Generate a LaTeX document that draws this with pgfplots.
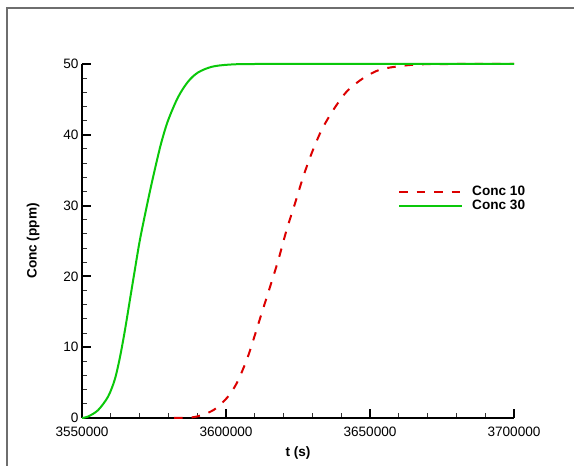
\documentclass[border=0pt]{standalone}
\usepackage{fontspec}
\setmainfont{Liberation Sans}
\usepackage{pgfplots}
\pgfplotsset{compat=1.18}
\definecolor{cgreen}{RGB}{10,200,10}
\definecolor{cred}{RGB}{220,0,0}
\definecolor{cframe}{RGB}{110,110,110}
\begin{document}
\begin{tikzpicture}[x=1pt,y=1pt]
\path[use as bounding box] (0,0) rectangle (574,466);
\draw[cframe, line width=1.5pt] (7,0) -- (7,458) -- (573.5,458);
\begin{axis}[
  at={(82pt,48pt)}, anchor=south west,
  width=432pt, height=354pt, scale only axis,
  xmin=3550000, xmax=3700000, ymin=0, ymax=50,
  axis x line*=bottom, axis y line*=left,
  axis line style={line width=2pt, -},
  xtick={3550000,3600000,3650000,3700000},
  ytick={0,10,20,30,40,50},
  minor x tick num=4, minor y tick num=4,
  tick align=inside,
  major tick length=9pt, minor tick length=5pt,
  every major tick/.style={line width=2pt, black},
  every minor tick/.style={line width=1pt, black!80},
  scaled x ticks=false,
  /pgf/number format/assume math mode=true,
  x tick label style={/pgf/number format/.cd, fixed, 1000 sep={}, precision=0, /tikz/.cd, yshift=-5pt},
  tick label style={font=\fontsize{13.6}{16}\selectfont},
  xlabel={t (s)}, ylabel={Conc (ppm)},
  every axis y label/.style={at={(axis description cs:-0.113,0.5)}, rotate=90, anchor=center,
    font=\bfseries\fontsize{13.6}{16}\selectfont},
  every axis x label/.style={at={(axis description cs:0.5,-0.098)}, anchor=center,
    font=\bfseries\fontsize{13.6}{16}\selectfont},
  clip=false,
  legend style={at={(axis description cs:0.7315,0.6195)}, anchor=west, draw=none, fill=none,
    font=\bfseries\fontsize{13.6}{16}\selectfont, inner sep=0pt, row sep=-1pt},
  legend cell align=left,
  legend image code/.code={\draw[#1] (0pt,0pt) -- (63pt,0pt); \path (70pt,0pt);},
]
\addplot[cred, line width=2pt, dash pattern=on 8.5pt off 9pt, smooth, tension=0.5] coordinates {
(3582000,0) (3586000,0.05) (3589826,0.2) (3595590,1.1) (3600240,2.8) (3603712,4.9)
(3607184,8.2) (3609475,11.0) (3612392,14.8) (3615274,18.5) (3618155,22.3)
(3621072,26.6) (3623954,30.3) (3626835,34.1) (3629752,37.4) (3633224,40.7)
(3637251,43.5) (3641904,46.1) (3647667,48.0) (3653466,49.2) (3660410,49.7)
(3667354,49.95) (3680000,50) (3700000,50)};
\addlegendentry{Conc 10}
\addplot[cgreen, line width=2pt, smooth, tension=0.5] coordinates {
(3550000,0) (3552083,0.2) (3555556,1.1) (3559028,3.0) (3561354,5.4) (3563090,8.4)
(3564826,12.2) (3566562,16.5) (3568299,20.8) (3570035,25.0) (3572326,29.6)
(3574063,32.9) (3575799,36.0) (3577535,38.9) (3579861,42.0) (3583333,45.3)
(3586806,47.5) (3590278,48.8) (3595000,49.6) (3600694,49.9) (3610000,50)
(3650000,50) (3700000,50)};
\addlegendentry{Conc 30}
\end{axis}
\end{tikzpicture}
\end{document}
